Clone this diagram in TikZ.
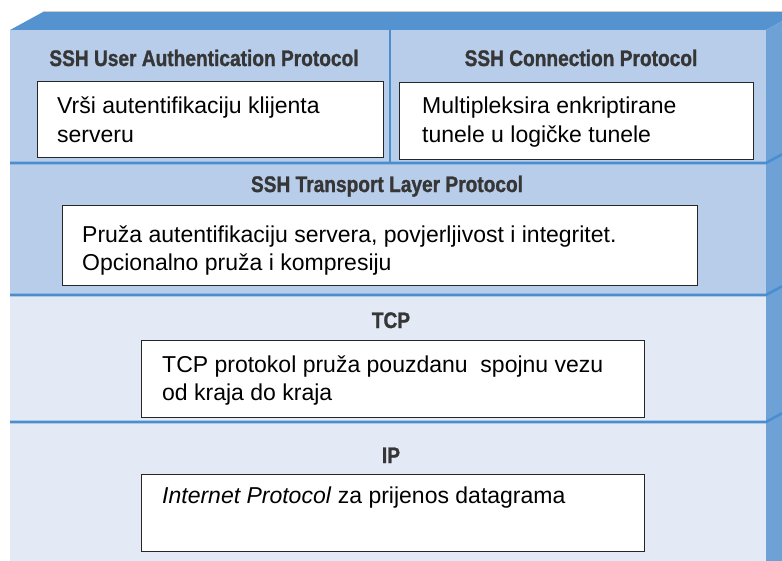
\documentclass[tikz,border=0pt]{standalone}
\usepackage{fontspec}
\setmainfont{Liberation Sans}
\newfontfamily\titlefont[FakeStretch=0.85,FakeBold=1.2]{Liberation Sans}
\definecolor{bandblue}{HTML}{5593D0}
\definecolor{sideblue}{HTML}{6EA2D7}
\definecolor{lineblue}{HTML}{4A8ED0}
\definecolor{upperfill}{HTML}{B8CDEA}
\definecolor{lowerfill}{HTML}{E3E9F5}
\definecolor{titlegray}{HTML}{363636}
\begin{document}
\begin{tikzpicture}[x=1pt,y=-1pt,
  layerline/.style={draw=lineblue, line width=2.6pt},
  descbox/.style={draw=black!85, line width=1.3pt, fill=white, inner sep=0pt, anchor=north west},
  layertitle/.style={font=\titlefont\bfseries\fontsize{22.5}{26}\selectfont, text=titlegray, inner sep=0pt, anchor=base},
  bodytext/.style={font=\fontsize{23}{28}\selectfont, text=black, inner sep=0pt, anchor=base west}]
\useasboundingbox (0,0) rectangle (782,560);
\clip (0,0) rectangle (782,560);
% 3D block faces
\fill[bandblue] (10,30) -- (43,12) -- (799,12) -- (766,30) -- cycle;
\draw[black!20, line width=1pt] (43,11) -- (799,11);
\fill[sideblue] (766,30) -- (799,12) -- (799,570) -- (766,570) -- cycle;
\fill[upperfill] (10,30) rectangle (766,295);
\fill[lowerfill] (10,295) rectangle (766,570);
% layer separators
\draw[layerline] (10,163) -- (766,163) -- (782,154.3);
\draw[layerline] (10,295) -- (766,295) -- (782,286.3);
\draw[layerline] (10,422) -- (766,422) -- (782,413.3);
\draw[layerline] (390,30) -- (390,163);
% titles
\node[layertitle] (h1) at (204,66) {SSH User Authentication Protocol};
\node[layertitle] (h2) at (581,66) {SSH Connection Protocol};
\node[layertitle] (h3) at (387,192) {SSH Transport Layer Protocol};
\node[layertitle] (h4) at (391,328) {TCP};
\node[layertitle] (h5) at (391,463) {IP};
% description boxes
\node[descbox, minimum width=346pt, minimum height=76pt] (b1) at (37,81) {};
\node[descbox, minimum width=354pt, minimum height=77pt] (b2) at (399,82) {};
\node[descbox, minimum width=635pt, minimum height=80pt] (b3) at (62,205) {};
\node[descbox, minimum width=503pt, minimum height=77pt] (b4) at (141,340) {};
\node[descbox, minimum width=503pt, minimum height=77pt] (b5) at (141,474) {};
% texts
\node[bodytext] (t1a) at (57,113) {Vrši autentifikaciju klijenta};
\node[bodytext] (t1b) at (57,142) {serveru};
\node[bodytext] (t2a) at (422,113) {Multipleksira enkriptirane};
\node[bodytext] (t2b) at (422,142) {tunele u logičke tunele};
\node[bodytext] (t3a) at (82,242) {Pruža autentifikaciju servera, povjerljivost i integritet.};
\node[bodytext] (t3b) at (82,270) {Opcionalno pruža i kompresiju};
\node[bodytext] (t4a) at (162,372) {TCP protokol pruža pouzdanu \ spojnu vezu};
\node[bodytext] (t4b) at (162,400) {od kraja do kraja};
\node[bodytext] (t5a) at (162,503) {\textit{Internet Protocol} za prijenos datagrama};
\end{tikzpicture}
\end{document}
